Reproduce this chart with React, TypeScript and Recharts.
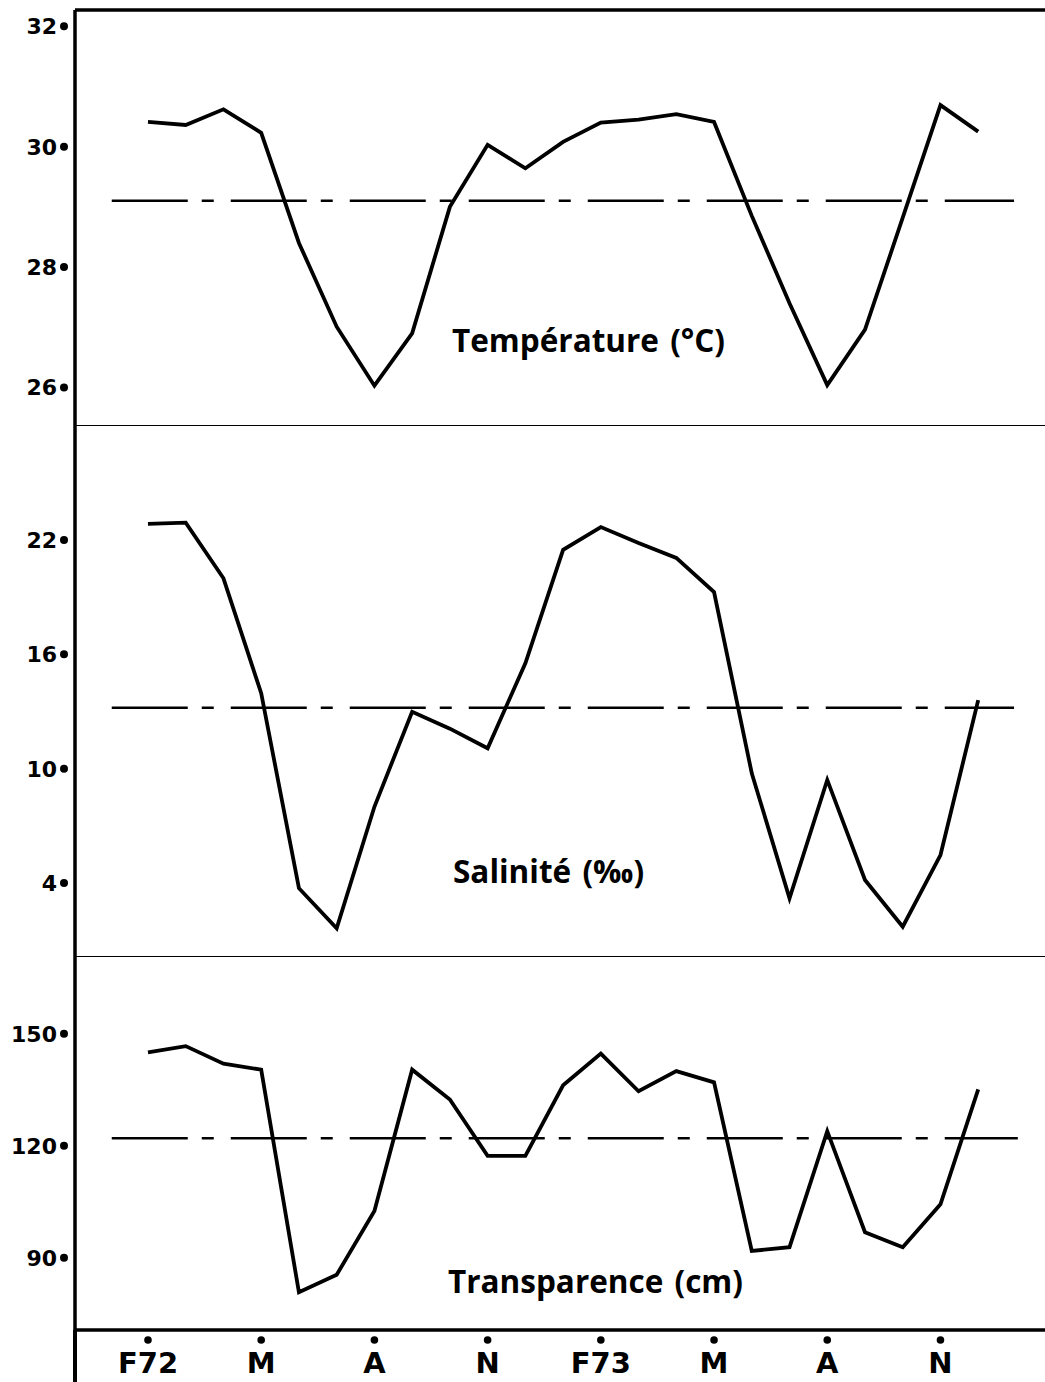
import React from 'react';
import { LineChart, Line, XAxis, YAxis, ReferenceLine, Customized } from 'recharts';

// Monthly samples, February 1972 -> December 1973
const months = ['F72', 'M', 'A', 'M', 'J', 'J', 'A', 'S', 'O', 'N', 'D', 'J73', 'F73', 'M', 'A', 'M', 'J', 'J', 'A', 'S', 'O', 'N', 'D'];
const temperature = [30.41, 30.36, 30.62, 30.23, 28.4, 27.01, 26.03, 26.9, 29.0, 30.03, 29.64, 30.08, 30.4, 30.45, 30.54, 30.41, 28.85, 27.4, 26.04, 26.96, 28.82, 30.69, 30.25];
const salinity = [22.84, 22.91, 19.99, 13.96, 3.73, 1.63, 8.0, 12.99, 12.1, 11.07, 15.53, 21.48, 22.68, 21.84, 21.06, 19.27, 9.76, 3.2, 9.41, 4.16, 1.71, 5.47, 13.6];
const transparency = [145.0, 146.7, 142.0, 140.4, 80.7, 85.4, 102.5, 140.4, 132.4, 117.3, 117.3, 136.2, 144.7, 134.6, 140.0, 137.0, 91.8, 92.8, 123.9, 96.8, 92.8, 104.3, 135.1];

const tempMean = 29.1;
const salMean = 13.2;
const transMean = 122;

const xTickIndex = [0, 3, 6, 9, 12, 15, 18, 21];
const xTickLabels = ['F72', 'M', 'A', 'N', 'F73', 'M', 'A', 'N'];
const tempTicks = [26, 28, 30, 32];
const salTicks = [4, 10, 16, 22];
const transTicks = [90, 120, 150];

const data = months.map((m, i) => ({
  i,
  month: m,
  temp: temperature[i],
  sal: salinity[i],
  trans: transparency[i],
}));

const X_DOMAIN: [number, number] = [-1.934, 23.77];
const MEAN_X0 = -0.96;
const MEAN_X1 = 22.95;
const W = 1045;
const AXIS_W = 75;
const DASH = '76 14 12 17';

const TEMP_DOMAIN: [number, number] = [25.36, 32.27];
const SAL_DOMAIN: [number, number] = [0.12, 27.98];
const TRANS_DOMAIN: [number, number] = [70.6, 170.6];

const YTick = (props: any) => {
  const { x, y, payload } = props;
  return (
    <g>
      <text x={x - 18} y={y} dy={8} textAnchor="end" fontFamily="DejaVu Sans" fontWeight="bold" fontSize={22} fill="#000">
        {payload.value}
      </text>
      <circle cx={x - 11} cy={y} r={4} fill="#000" />
    </g>
  );
};

const XTick = (props: any) => {
  const { x, y, payload } = props;
  const k = xTickIndex.indexOf(payload.value);
  return (
    <g>
      <circle cx={x} cy={y + 10} r={3.8} fill="#000" />
      <text x={x} y={y + 43} textAnchor="middle" fontFamily="DejaVu Sans" fontWeight="bold" fontSize={29} fill="#000">
        {k >= 0 ? xTickLabels[k] : ''}
      </text>
    </g>
  );
};

const Title = (props: any) => (
  <text x={props.tx} y={props.ty} fontFamily="Open Sans" fontWeight="bold" fontSize={31.5} fill="#000" wordSpacing={3}>
    {props.label}
  </text>
);

const yAxisProps = {
  type: 'number' as const,
  width: AXIS_W,
  allowDataOverflow: true,
  axisLine: { stroke: '#000', strokeWidth: 3.5 },
  tickLine: false,
  tickSize: 0,
  tickMargin: 0,
  interval: 0 as const,
  tick: <YTick />,
};

export default function App() {
  return (
    <div style={{ position: 'absolute', left: 0, top: 0, width: W, height: 1382, background: '#fff', overflow: 'hidden' }}>
      <div style={{ position: 'absolute', left: 0, top: 0 }}>
        <LineChart width={W} height={426} data={data} margin={{ top: 10, right: 0, left: 0, bottom: 0 }}>
          <XAxis type="number" dataKey="i" domain={X_DOMAIN} allowDataOverflow hide />
          <YAxis {...yAxisProps} domain={TEMP_DOMAIN} ticks={tempTicks} />
          <ReferenceLine y={TEMP_DOMAIN[1]} stroke="#000" strokeWidth={3.5} />
          <ReferenceLine y={TEMP_DOMAIN[0]} stroke="#000" strokeWidth={2} />
          <ReferenceLine
            segment={[{ x: MEAN_X0, y: tempMean }, { x: MEAN_X1, y: tempMean }]}
            stroke="#000"
            strokeWidth={2.5}
            strokeDasharray={DASH}
          />
          <Line type="linear" dataKey="temp" stroke="#000" strokeWidth={3.8} dot={false} isAnimationActive={false} />
          <Customized component={<Title tx={452} ty={352} label="Température (°C)" />} />
        </LineChart>
      </div>
      <div style={{ position: 'absolute', left: 0, top: 426 }}>
        <LineChart width={W} height={531} data={data} margin={{ top: 0, right: 0, left: 0, bottom: 0 }}>
          <XAxis type="number" dataKey="i" domain={X_DOMAIN} allowDataOverflow hide />
          <YAxis {...yAxisProps} domain={SAL_DOMAIN} ticks={salTicks} />
          <ReferenceLine y={SAL_DOMAIN[0]} stroke="#000" strokeWidth={2} />
          <ReferenceLine
            segment={[{ x: MEAN_X0, y: salMean }, { x: MEAN_X1, y: salMean }]}
            stroke="#000"
            strokeWidth={2.5}
            strokeDasharray={DASH}
          />
          <Line type="linear" dataKey="sal" stroke="#000" strokeWidth={3.8} dot={false} isAnimationActive={false} />
          <Customized component={<Title tx={453} ty={457} label="Salinité (‰)" />} />
        </LineChart>
      </div>
      <div style={{ position: 'absolute', left: 0, top: 957 }}>
        <LineChart width={W} height={425} data={data} margin={{ top: 0, right: 0, left: 0, bottom: 0 }}>
          <XAxis
            type="number"
            dataKey="i"
            domain={X_DOMAIN}
            allowDataOverflow
            ticks={xTickIndex}
            interval={0}
            height={52}
            axisLine={{ stroke: '#000', strokeWidth: 3.5 }}
            tickLine={false}
            tickSize={0}
            tickMargin={0}
            tick={<XTick />}
          />
          <YAxis {...yAxisProps} domain={TRANS_DOMAIN} ticks={transTicks} />
          <ReferenceLine
            segment={[{ x: MEAN_X0, y: transMean }, { x: MEAN_X1 + 0.1, y: transMean }]}
            stroke="#000"
            strokeWidth={2.5}
            strokeDasharray={DASH}
          />
          <Line type="linear" dataKey="trans" stroke="#000" strokeWidth={3.8} dot={false} isAnimationActive={false} />
          <Customized component={<Title tx={448} ty={336} label="Transparence (cm)" />} />
        </LineChart>
      </div>
      <div style={{ position: 'absolute', left: 73.25, top: 1330, width: 3.5, height: 52, background: '#000' }} />
    </div>
  );
}
